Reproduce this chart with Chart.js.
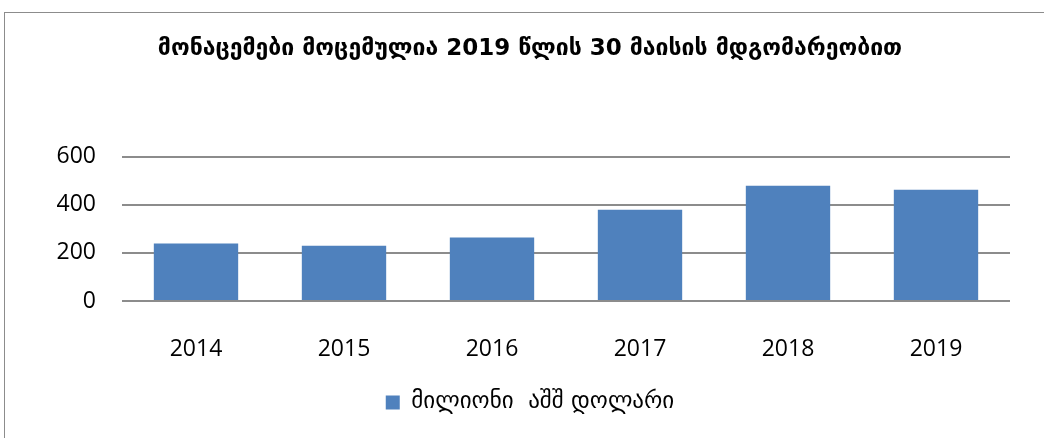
<!DOCTYPE html>
<html>
<head>
<meta charset="utf-8">
<script src="https://cdn.jsdelivr.net/npm/chart.js@4"></script>
<style>
  body { margin: 0; background: #fff; overflow: hidden; }
  .frame {
    position: absolute; left: 4px; top: 12px; width: 1060px; height: 450px;
    border: 1px solid #8c8c8c; box-sizing: border-box;
  }
  .chart-box { position: absolute; left: 5px; top: 13px; width: 1050px; height: 425px; }
</style>
</head>
<body>
<div class="frame"></div>
<div class="chart-box"><canvas id="investChart"></canvas></div>
<script>
const years = ["2014", "2015", "2016", "2017", "2018", "2019"];
const amounts = [239, 230, 264, 379, 479, 462];
const yTicks = [0, 200, 400, 600];
const titleText = "მონაცემები მოცემულია 2019 წლის 30 მაისის მდგომარეობით";
const seriesLabel = "მილიონი  აშშ დოლარი";

const barColor = "#4F81BD";
const gridColor = "#8c8c8c";

const ctx = document.getElementById("investChart");

new Chart(ctx, {
  type: "bar",
  data: {
    labels: years,
    datasets: [
      {
        label: seriesLabel,
        data: amounts,
        backgroundColor: barColor,
        borderWidth: 0,
        categoryPercentage: 1,
        barPercentage: 0.57,
      },
    ],
  },
  options: {
    responsive: true,
    maintainAspectRatio: false,
    animation: false,
    layout: { padding: { left: 0, right: 0, top: 0, bottom: 14 } },
    plugins: {
      title: {
        display: true,
        text: titleText,
        color: "#000",
        font: { family: "'DejaVu Sans'", size: 23, weight: "bold" },
        padding: { top: 22, bottom: 94 },
      },
      legend: {
        position: "bottom",
        labels: {
          color: "#000",
          boxWidth: 14,
          boxHeight: 14,
          font: { family: "'DejaVu Sans'", size: 23 },
        },
      },
      tooltip: { enabled: false },
    },
    scales: {
      x: {
        grid: { display: false },
        border: { display: false },
        ticks: {
          color: "#000",
          padding: 27,
          font: { family: "'Open Sans'", size: 23 },
        },
        afterFit: (scale) => {
          scale.height = 80;
        },
      },
      y: {
        min: 0,
        max: 600,
        afterBuildTicks: (scale) => {
          scale.ticks = yTicks.map((v) => ({ value: v }));
        },
        grid: { color: gridColor, lineWidth: 2, drawTicks: false },
        border: { display: false },
        ticks: {
          color: "#000",
          padding: 26,
          font: { family: "'Open Sans'", size: 23 },
        },
        afterFit: (scale) => {
          scale.width = 117;
        },
      },
      // empty right margin so title and legend centre like the original
      spacer: {
        type: "linear",
        position: "right",
        grid: { display: false },
        border: { display: false },
        ticks: { display: false },
        afterFit: (scale) => {
          scale.width = 45;
        },
      },
    },
  },
});
</script>
</body>
</html>
